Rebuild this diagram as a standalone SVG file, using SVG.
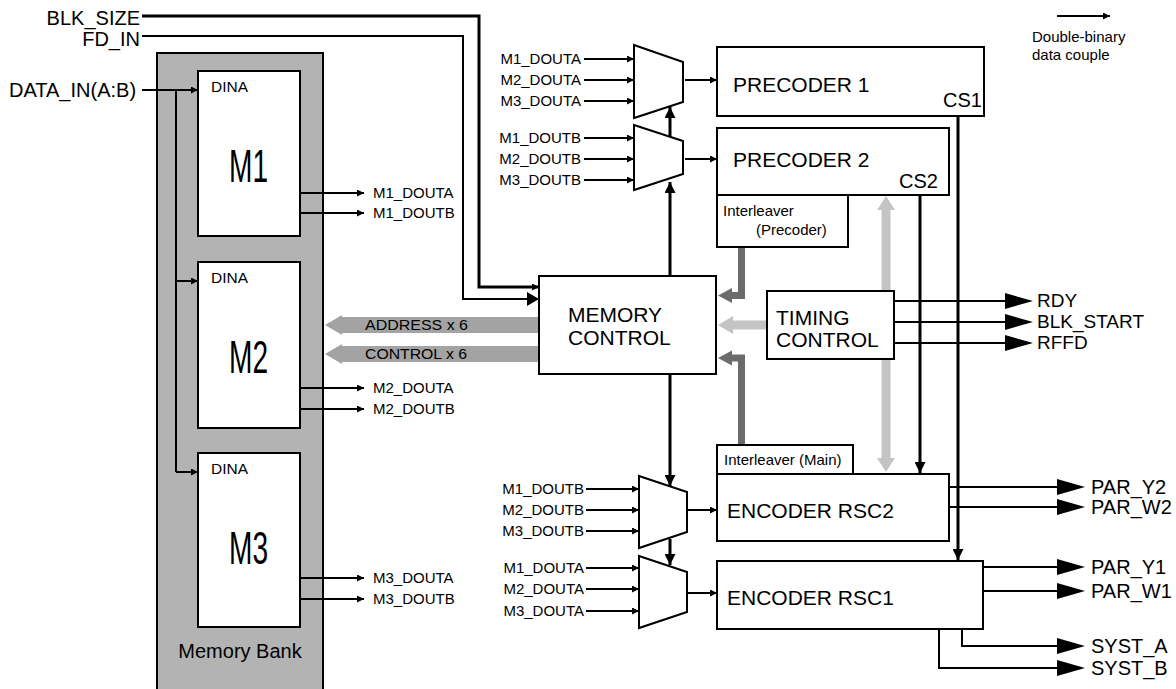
<svg xmlns="http://www.w3.org/2000/svg" width="1176" height="689" viewBox="0 0 1176 689">
<defs>
<style>
.t{font-family:"Liberation Sans",Arial,Helvetica,sans-serif;fill:#000}
.box{fill:#fff;stroke:#000;stroke-width:2}
.w{fill:none;stroke:#000;stroke-width:2}
.k{fill:none;stroke:#000;stroke-width:3}
.dk{fill:none;stroke:#6b6b6b;stroke-width:7}
.lt{fill:none;stroke:#c4c4c4;stroke-width:9}
</style>
<marker id="a" viewBox="0 0 10 10" refX="10" refY="5" markerWidth="7" markerHeight="7" markerUnits="userSpaceOnUse" orient="auto"><path d="M0,0 L10,5 L0,10 z" fill="#000"/></marker>
<marker id="ak" viewBox="0 0 10 10" refX="10" refY="5" markerWidth="11" markerHeight="11" markerUnits="userSpaceOnUse" orient="auto"><path d="M0,0 L10,5 L0,10 z" fill="#000"/></marker>
<marker id="big" viewBox="0 0 28 16" refX="0" refY="8" markerWidth="28" markerHeight="16" markerUnits="userSpaceOnUse" orient="auto"><path d="M0,0 L28,8 L0,16 z" fill="#000"/></marker>
</defs>
<rect width="1176" height="689" fill="#fff"/>

<g id="memory-bank">
<rect x="157" y="53" width="166" height="650" fill="#b3b3b3" stroke="#000" stroke-width="2"/>
<text class="t" x="240" y="658" font-size="20" text-anchor="middle">Memory Bank</text>
</g>

<g id="connectors">
<!-- inputs -->
<path class="k" d="M142,16 H479 V287 H539" marker-end="url(#a)"/>
<path class="w" d="M142,36 H463 V299 H527"/>
<polygon points="527,292 539,299 527,306" fill="#000"/>
<path class="w" d="M142,90 H198" marker-end="url(#a)"/>
<path class="w" d="M176,90 V472"/>
<path class="w" d="M176,281 H198" marker-end="url(#a)"/>
<path class="w" d="M176,472 H198" marker-end="url(#a)"/>
<!-- memory outputs -->
<path class="w" d="M300,193 H364" marker-end="url(#a)"/>
<path class="w" d="M300,213 H364" marker-end="url(#a)"/>
<path class="w" d="M300,388 H364" marker-end="url(#a)"/>
<path class="w" d="M300,409 H364" marker-end="url(#a)"/>
<path class="w" d="M300,578 H364" marker-end="url(#a)"/>
<path class="w" d="M300,599 H364" marker-end="url(#a)"/>
<!-- address/control bands -->
<rect x="341" y="317" width="198" height="16" fill="#a3a3a3"/>
<polygon points="342,315 325,325 342,335" fill="#a3a3a3"/>
<rect x="341" y="346" width="198" height="16" fill="#a3a3a3"/>
<polygon points="342,344 325,354 342,364" fill="#a3a3a3"/>
<!-- mux inputs -->
<path class="w" d="M584,59 H634" marker-end="url(#a)"/>
<path class="w" d="M584,80 H634" marker-end="url(#a)"/>
<path class="w" d="M584,101 H634" marker-end="url(#a)"/>
<path class="w" d="M584,138 H634" marker-end="url(#a)"/>
<path class="w" d="M584,159 H634" marker-end="url(#a)"/>
<path class="w" d="M584,180 H634" marker-end="url(#a)"/>
<path class="w" d="M586,489 H639" marker-end="url(#a)"/>
<path class="w" d="M586,510 H639" marker-end="url(#a)"/>
<path class="w" d="M586,531 H639" marker-end="url(#a)"/>
<path class="w" d="M586,568 H639" marker-end="url(#a)"/>
<path class="w" d="M586,589 H639" marker-end="url(#a)"/>
<path class="w" d="M586,611 H639" marker-end="url(#a)"/>
<!-- mux outputs -->
<path class="w" d="M685,80 H717" marker-end="url(#a)"/>
<path class="w" d="M685,159 H717" marker-end="url(#a)"/>
<path class="w" d="M688,510 H717" marker-end="url(#a)"/>
<path class="w" d="M688,593 H717" marker-end="url(#a)"/>
<!-- select lines -->
<path class="k" d="M670,276 V182" marker-end="url(#ak)"/>
<path class="k" d="M670,137 V107" marker-end="url(#ak)"/>
<path class="k" d="M670,374 V486" marker-end="url(#ak)"/>
<path class="k" d="M670,539 V565" marker-end="url(#ak)"/>
<!-- CS lines -->
<path class="k" d="M958,116 V560" marker-end="url(#ak)"/>
<path class="k" d="M920,195 V473" marker-end="url(#ak)"/>
<!-- interleaver to memory control -->
<path class="dk" d="M741.5,247 V295.5 H731"/>
<polygon points="732,288 718,295.5 732,303" fill="#6b6b6b"/>
<path class="dk" d="M741.5,445 V358 H731"/>
<polygon points="732,350.5 718,358 732,365.5" fill="#6b6b6b"/>
<!-- timing to memory control -->
<path class="lt" d="M766,325 H732"/>
<polygon points="733,316 718,325 733,334" fill="#c4c4c4"/>
<path class="lt" d="M886,209 V459"/>
<polygon points="877,210 886,196 895,210" fill="#c4c4c4"/>
<polygon points="877,458 886,472 895,458" fill="#c4c4c4"/>
<!-- timing outputs -->
<path class="w" d="M894,301 H1005" marker-end="url(#big)"/>
<path class="w" d="M894,322 H1005" marker-end="url(#big)"/>
<path class="w" d="M894,343 H1005" marker-end="url(#big)"/>
<!-- encoder outputs -->
<path class="w" d="M949,487 H1057" marker-end="url(#big)"/>
<path class="w" d="M949,507 H1057" marker-end="url(#big)"/>
<path class="w" d="M983,567 H1057" marker-end="url(#big)"/>
<path class="w" d="M983,591 H1057" marker-end="url(#big)"/>
<path class="w" d="M962,629 V646 H1057" marker-end="url(#big)"/>
<path class="w" d="M939,629 V668 H1057" marker-end="url(#big)"/>
<!-- legend -->
<path class="w" d="M1057,16 H1110" stroke-width="2.5" marker-end="url(#a)"/>
</g>

<g id="m1"><rect class="box" x="198" y="71" width="102" height="165"/>
<text class="t" x="211" y="92" font-size="14" textLength="37" lengthAdjust="spacingAndGlyphs">DINA</text>
<text class="t" x="229" y="182" font-size="47" textLength="39" lengthAdjust="spacingAndGlyphs">M1</text></g>
<g id="m2"><rect class="box" x="198" y="262" width="102" height="166"/>
<text class="t" x="211" y="283" font-size="14" textLength="37" lengthAdjust="spacingAndGlyphs">DINA</text>
<text class="t" x="229" y="373" font-size="47" textLength="39" lengthAdjust="spacingAndGlyphs">M2</text></g>
<g id="m3"><rect class="box" x="198" y="453" width="102" height="174"/>
<text class="t" x="211" y="474" font-size="14" textLength="37" lengthAdjust="spacingAndGlyphs">DINA</text>
<text class="t" x="229" y="564" font-size="47" textLength="39" lengthAdjust="spacingAndGlyphs">M3</text></g>

<g id="mux1"><polygon class="box" points="634,45 683,62 683,102 634,118" stroke-width="1.5"/></g>
<g id="mux2"><polygon class="box" points="634,125 683,141 683,174 634,190" stroke-width="1.5"/></g>
<g id="mux3"><polygon class="box" points="639,476 687,492 687,532 639,548" stroke-width="1.5"/></g>
<g id="mux4"><polygon class="box" points="639,556 687,572 687,612 639,628" stroke-width="1.5"/></g>

<g id="precoder1"><rect class="box" x="717" y="47" width="267" height="69"/>
<text class="t" x="733" y="92" font-size="21">PRECODER 1</text>
<text class="t" x="943" y="107" font-size="20">CS1</text></g>
<g id="precoder2"><rect class="box" x="717" y="128" width="232" height="67"/>
<text class="t" x="733" y="167" font-size="21">PRECODER 2</text>
<text class="t" x="899" y="188" font-size="20">CS2</text></g>
<g id="interleaver-precoder"><rect class="box" x="717" y="195" width="131" height="52"/>
<text class="t" x="723" y="216" font-size="15">Interleaver</text>
<text class="t" x="756" y="235" font-size="15">(Precoder)</text></g>
<g id="memory-control"><rect class="box" x="539" y="276" width="177" height="98"/>
<text class="t" x="568" y="322" font-size="21">MEMORY</text>
<text class="t" x="568" y="345" font-size="21">CONTROL</text></g>
<g id="timing-control"><rect class="box" x="767" y="291" width="127" height="68"/>
<text class="t" x="776" y="325" font-size="21">TIMING</text>
<text class="t" x="776" y="347" font-size="21">CONTROL</text></g>
<g id="interleaver-main"><rect class="box" x="717" y="445" width="136" height="29"/>
<text class="t" x="724" y="465" font-size="15">Interleaver (Main)</text></g>
<g id="encoder-rsc2"><rect class="box" x="717" y="474" width="232" height="67"/>
<text class="t" x="727" y="518" font-size="21">ENCODER RSC2</text></g>
<g id="encoder-rsc1"><rect class="box" x="717" y="561" width="266" height="68"/>
<text class="t" x="727" y="605" font-size="21">ENCODER RSC1</text></g>

<g id="labels">
<text class="t" x="140" y="25" font-size="20" text-anchor="end">BLK_SIZE</text>
<text class="t" x="140" y="46" font-size="20" text-anchor="end">FD_IN</text>
<text class="t" x="9" y="97" font-size="20">DATA_IN(A:B)</text>
<text class="t" x="373" y="198" font-size="15">M1_DOUTA</text>
<text class="t" x="373" y="218" font-size="15">M1_DOUTB</text>
<text class="t" x="373" y="393" font-size="15">M2_DOUTA</text>
<text class="t" x="373" y="414" font-size="15">M2_DOUTB</text>
<text class="t" x="373" y="583" font-size="15">M3_DOUTA</text>
<text class="t" x="373" y="604" font-size="15">M3_DOUTB</text>
<text class="t" x="365" y="330" font-size="15" textLength="103" lengthAdjust="spacingAndGlyphs">ADDRESS x 6</text>
<text class="t" x="365" y="359" font-size="15" textLength="102" lengthAdjust="spacingAndGlyphs">CONTROL x 6</text>
<g text-anchor="end" font-size="15">
<text class="t" x="581" y="64">M1_DOUTA</text>
<text class="t" x="581" y="85">M2_DOUTA</text>
<text class="t" x="581" y="106">M3_DOUTA</text>
<text class="t" x="581" y="143">M1_DOUTB</text>
<text class="t" x="581" y="164">M2_DOUTB</text>
<text class="t" x="581" y="185">M3_DOUTB</text>
<text class="t" x="584" y="494">M1_DOUTB</text>
<text class="t" x="584" y="515">M2_DOUTB</text>
<text class="t" x="584" y="536">M3_DOUTB</text>
<text class="t" x="584" y="573">M1_DOUTA</text>
<text class="t" x="584" y="594">M2_DOUTA</text>
<text class="t" x="584" y="616">M3_DOUTA</text>
</g>
<text class="t" x="1037" y="307" font-size="19">RDY</text>
<text class="t" x="1037" y="328" font-size="19">BLK_START</text>
<text class="t" x="1037" y="349" font-size="19">RFFD</text>
<text class="t" x="1091" y="494" font-size="20">PAR_Y2</text>
<text class="t" x="1091" y="514" font-size="20">PAR_W2</text>
<text class="t" x="1091" y="574" font-size="20">PAR_Y1</text>
<text class="t" x="1091" y="598" font-size="20">PAR_W1</text>
<text class="t" x="1091" y="653" font-size="20">SYST_A</text>
<text class="t" x="1091" y="675" font-size="20">SYST_B</text>
<text class="t" x="1032" y="42" font-size="15">Double-binary</text>
<text class="t" x="1032" y="60" font-size="15">data couple</text>
</g>
</svg>
